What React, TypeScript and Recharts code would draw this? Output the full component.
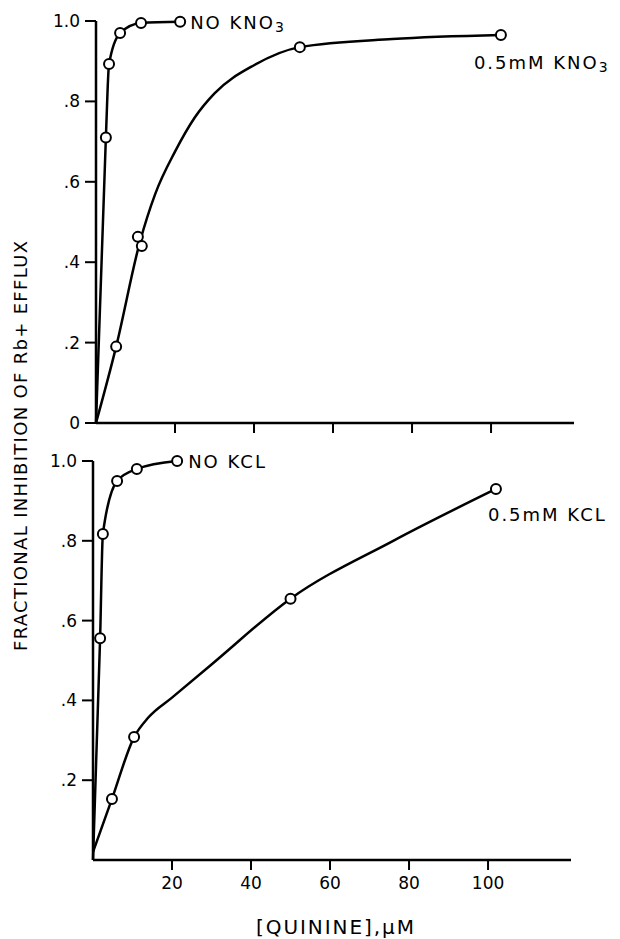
import React from 'react';
import {
  ComposedChart,
  Line,
  Scatter,
  XAxis,
  YAxis,
} from 'recharts';

// ---- data ----
const xTicks = [20, 40, 60, 80, 100];
const yTicksTop = [0, 0.2, 0.4, 0.6, 0.8, 1.0];
const yTicksBottom = [0.2, 0.4, 0.6, 0.8, 1.0];

// top panel: KNO3
const noKno3Points = [
  { x: 2.5, y: 0.71 },
  { x: 3.3, y: 0.893 },
  { x: 6.1, y: 0.97 },
  { x: 11.4, y: 0.995 },
  { x: 21.3, y: 0.998 },
];
const noKno3Curve = [
  { x: 0, y: 0 },
  { x: 2.5, y: 0.71 },
  { x: 3.3, y: 0.893 },
  { x: 6.1, y: 0.97 },
  { x: 11.4, y: 0.995 },
  { x: 21.3, y: 0.998 },
];
const kno3Points = [
  { x: 5.1, y: 0.19 },
  { x: 10.6, y: 0.463 },
  { x: 11.6, y: 0.44 },
  { x: 51.6, y: 0.935 },
  { x: 102.5, y: 0.965 },
];
const kno3Curve = [
  { x: 0, y: 0 },
  { x: 5.1, y: 0.19 },
  { x: 11.1, y: 0.45 },
  { x: 15, y: 0.57 },
  { x: 20, y: 0.675 },
  { x: 25, y: 0.76 },
  { x: 30, y: 0.82 },
  { x: 40, y: 0.89 },
  { x: 51.6, y: 0.935 },
  { x: 75, y: 0.955 },
  { x: 102.5, y: 0.965 },
];

// bottom panel: KCL
const noKclPoints = [
  { x: 1.8, y: 0.556 },
  { x: 2.5, y: 0.817 },
  { x: 6.1, y: 0.95 },
  { x: 11.1, y: 0.98 },
  { x: 21.3, y: 1.0 },
];
const noKclCurve = [
  { x: 0, y: 0 },
  { x: 1.8, y: 0.556 },
  { x: 2.5, y: 0.817 },
  { x: 6.1, y: 0.95 },
  { x: 11.1, y: 0.98 },
  { x: 21.3, y: 1.0 },
];
const kclPoints = [
  { x: 4.8, y: 0.153 },
  { x: 10.4, y: 0.308 },
  { x: 50, y: 0.655 },
  { x: 102, y: 0.93 },
];
const kclCurve = [
  { x: 0, y: 0.02 },
  { x: 4.8, y: 0.153 },
  { x: 10.4, y: 0.308 },
  { x: 14, y: 0.357 },
  { x: 20, y: 0.407 },
  { x: 30, y: 0.49 },
  { x: 50, y: 0.655 },
  { x: 76, y: 0.8 },
  { x: 102, y: 0.93 },
];

const FONT = '"DejaVu Sans", sans-serif';
const X_MAX = 121;

const fmtY = (v: number) => (v === 0 ? '0' : v === 1 ? '1.0' : String(v).replace(/^0/, ''));

// hollow circle; the last point of a series also carries its label
function makeDot(lastX: number, main: string, sub: string, dx: number, dy: number) {
  return (props: any) => {
    const { cx, cy, payload } = props;
    const isLast = payload && payload.x === lastX;
    return (
      <g>
        <circle cx={cx} cy={cy} r={5} fill="#fff" stroke="#000" strokeWidth={2} />
        {isLast && (
          <text
            x={cx + dx}
            y={cy + dy}
            fontFamily={FONT}
            fontSize={18}
            letterSpacing={2}
            dominantBaseline="central"
            fill="#000"
          >
            <tspan>{main}</tspan>
            {sub && (
              <tspan dy={5} fontSize={14}>
                {sub}
              </tspan>
            )}
          </text>
        )}
      </g>
    );
  };
}

const axisLine = { stroke: '#000', strokeWidth: 2.5 };
const tickLine = { stroke: '#000', strokeWidth: 2 };
const tickStyle = { fill: '#000', fontSize: 17, fontFamily: FONT };

export default function App() {
  return (
    <div style={{ position: 'absolute', left: 0, top: 0, width: 620, height: 939, background: '#fff' }}>
      {/* top panel */}
      <div style={{ position: 'absolute', left: 0, top: 0 }}>
        <ComposedChart
          width={620}
          height={460}
          margin={{ top: 21, left: 56, right: 46, bottom: 7 }}
        >
          <XAxis
            type="number"
            dataKey="x"
            domain={[0, X_MAX]}
            ticks={xTicks}
            height={30}
            axisLine={axisLine}
            tickLine={tickLine}
            tickSize={10}
            tickFormatter={() => ''}
          />
          <YAxis
            type="number"
            dataKey="y"
            domain={[0, 1]}
            ticks={yTicksTop}
            width={40}
            axisLine={axisLine}
            tickLine={tickLine}
            tickSize={11}
            tickMargin={5}
            tick={tickStyle}
            tickFormatter={fmtY}
          />
          <Line data={noKno3Curve} dataKey="y" type="monotone" stroke="#000" strokeWidth={2.5} dot={false} isAnimationActive={false} />
          <Line data={kno3Curve} dataKey="y" type="monotone" stroke="#000" strokeWidth={2.5} dot={false} isAnimationActive={false} />
          <Scatter data={noKno3Points} dataKey="y" shape={makeDot(21.3, 'NO KNO', '3', 10, 0)} isAnimationActive={false} />
          <Scatter data={kno3Points} dataKey="y" shape={makeDot(102.5, '0.5mM KNO', '3', -27, 27)} isAnimationActive={false} />
        </ComposedChart>
      </div>

      {/* bottom panel */}
      <div style={{ position: 'absolute', left: 0, top: 430 }}>
        <ComposedChart
          width={620}
          height={509}
          margin={{ top: 31, left: 53, right: 49, bottom: 49 }}
        >
          <XAxis
            type="number"
            dataKey="x"
            domain={[0, X_MAX]}
            ticks={xTicks}
            height={30}
            axisLine={axisLine}
            tickLine={tickLine}
            tickSize={10}
            tickMargin={7}
            tick={tickStyle}
          />
          <YAxis
            type="number"
            dataKey="y"
            domain={[0, 1]}
            ticks={yTicksBottom}
            width={40}
            axisLine={axisLine}
            tickLine={tickLine}
            tickSize={11}
            tickMargin={5}
            tick={tickStyle}
            tickFormatter={fmtY}
          />
          <Line data={noKclCurve} dataKey="y" type="monotone" stroke="#000" strokeWidth={2.5} dot={false} isAnimationActive={false} />
          <Line data={kclCurve} dataKey="y" type="monotone" stroke="#000" strokeWidth={2.5} dot={false} isAnimationActive={false} />
          <Scatter data={noKclPoints} dataKey="y" shape={makeDot(21.3, 'NO KCL', '', 11, 0)} isAnimationActive={false} />
          <Scatter data={kclPoints} dataKey="y" shape={makeDot(102, '0.5mM KCL', '', -8, 25)} isAnimationActive={false} />
        </ComposedChart>
      </div>

      {/* axis titles */}
      <svg width={620} height={939} style={{ position: 'absolute', left: 0, top: 0, pointerEvents: 'none' }}>
        <text
          x={20}
          y={446}
          transform="rotate(-90, 20, 446)"
          textAnchor="middle"
          dominantBaseline="central"
          fontFamily={FONT}
          fontSize={18}
          textLength={410}
          lengthAdjust="spacing"
          fill="#000"
        >
          FRACTIONAL INHIBITION OF Rb+ EFFLUX
        </text>
        <text
          x={335}
          y={927}
          textAnchor="middle"
          dominantBaseline="central"
          fontFamily={FONT}
          fontSize={20}
          textLength={158}
          lengthAdjust="spacing"
          fill="#000"
        >
          [QUININE],μM
        </text>
      </svg>
    </div>
  );
}
